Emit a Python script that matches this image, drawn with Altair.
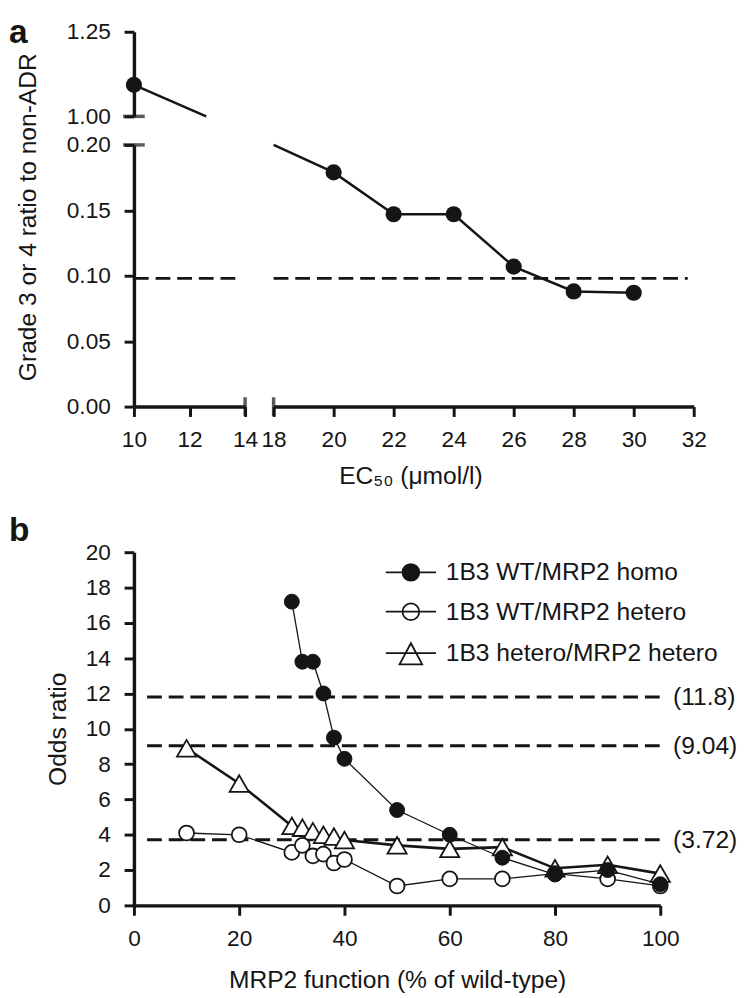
import altair as alt
import pandas as pd

FONT = "Liberation Sans, Arial, Helvetica, sans-serif"
INK = "#151515"

# ---------------- Panel a data ----------------
ec50_upper = [10]
ratio_upper = [1.093]
ec50_lower = [20, 22, 24, 26, 28, 30]
ratio_lower = [0.179, 0.147, 0.147, 0.107, 0.088, 0.087]
# line continuing to the axis breaks
upper_line_x = [10, 12.6]
upper_line_y = [1.093, 1.0]
lower_line_x = [18, 20, 22, 24, 26, 28, 30]
lower_line_y = [0.200, 0.179, 0.147, 0.147, 0.107, 0.088, 0.087]
threshold_a = 0.098
thr_left_x = [10, 13.8]
thr_right_x = [18, 31.8]
x_ticks_left = [10, 12, 14]
x_ticks_right = [18, 20, 22, 24, 26, 28, 30, 32]
y_ticks_upper = [1.0, 1.25]
y_ticks_lower = [0.0, 0.05, 0.10, 0.15, 0.20]

# ---------------- Panel b data ----------------
series_names = ["1B3 WT/MRP2 homo", "1B3 WT/MRP2 hetero", "1B3 hetero/MRP2 hetero"]
homo_x = [30, 32, 34, 36, 38, 40, 50, 60, 70, 80, 90, 100]
homo_or = [17.2, 13.8, 13.8, 12.0, 9.5, 8.3, 5.4, 4.0, 2.7, 1.75, 2.0, 1.2]
het_x = [10, 20, 30, 32, 34, 36, 38, 40, 50, 60, 70, 80, 90, 100]
het_or = [4.1, 4.0, 3.0, 3.4, 2.8, 2.9, 2.4, 2.6, 1.1, 1.5, 1.5, 1.8, 1.5, 1.1]
hh_x = [10, 20, 30, 32, 34, 36, 38, 40, 50, 60, 70, 80, 90, 100]
hh_or = [8.9, 6.9, 4.5, 4.4, 4.2, 4.0, 3.9, 3.7, 3.4, 3.2, 3.3, 2.1, 2.3, 1.8]
thresholds_b = [11.8, 9.04, 3.72]
threshold_labels_b = ["(11.8)", "(9.04)", "(3.72)"]
thr_b_start = 2.5
thr_b_end = 100
x_ticks_b = [0, 20, 40, 60, 80, 100]
y_ticks_b = list(range(0, 21, 2))

# ================= Panel a =================
sx_left = alt.Scale(domain=[10, 14], range=[0, 113], nice=False, zero=False)
sx_right = alt.Scale(domain=[18, 32], range=[142, 569], nice=False, zero=False)
sy_up = alt.Scale(domain=[1.0, 1.25], range=[86, 0], nice=False, zero=False)
sy_lo = alt.Scale(domain=[0, 0.2], range=[381, 115], nice=False, zero=False)

# upper-left block
xu = alt.X("ec50:Q", scale=sx_left, axis=None)
yu = alt.Y("ratio:Q", scale=sy_up,
           axis=alt.Axis(values=y_ticks_upper, format=".2f", title=None, orient="left"))
up_line = alt.Chart(pd.DataFrame({"ec50": upper_line_x, "ratio": upper_line_y})).mark_line(
    color=INK, strokeWidth=2.5).encode(x=xu, y=yu)
up_pts = alt.Chart(pd.DataFrame({"ec50": ec50_upper, "ratio": ratio_upper})).mark_point(
    shape="circle", filled=True, color=INK, size=270, opacity=1).encode(x=xu, y=yu)
up_break = alt.Chart(pd.DataFrame({"ec50": [x_ticks_left[0]], "ratio": [y_ticks_upper[0]]})).mark_tick(
    orient="horizontal", color=INK, size=22, thickness=3.5).encode(x=xu, y=yu)
UL = alt.layer(up_line, up_pts, up_break)

# lower-left block
xl = alt.X("ec50:Q", scale=sx_left,
           axis=alt.Axis(values=x_ticks_left, title=None, orient="bottom"))
yl = alt.Y("ratio:Q", scale=sy_lo,
           axis=alt.Axis(values=y_ticks_lower, format=".2f", title="Grade 3 or 4 ratio to non-ADR",
                         orient="left", titleY=188, titlePadding=26))
ll_thr = alt.Chart(pd.DataFrame({"ec50": [thr_left_x[0]], "ec50_end": [thr_left_x[1]],
                                 "ratio": [threshold_a]})).mark_rule(
    color=INK, strokeWidth=3, strokeDash=[15, 7]).encode(x=xl, x2="ec50_end:Q", y=yl)
ll_break_h = alt.Chart(pd.DataFrame({"ec50": [x_ticks_left[0]], "ratio": [y_ticks_lower[-1]]})).mark_tick(
    orient="horizontal", color=INK, size=22, thickness=3.5).encode(x=xl, y=yl)
ll_break_v = alt.Chart(pd.DataFrame({"ec50": [x_ticks_left[-1]], "ratio": [y_ticks_lower[0]]})).mark_tick(
    orient="vertical", color=INK, size=19, thickness=3.5).encode(x=xl, y=yl)
LL = alt.layer(ll_thr, ll_break_h, ll_break_v)

# lower-right block
xr = alt.X("ec50:Q", scale=sx_right,
           axis=alt.Axis(values=x_ticks_right, title="EC\u2085\u2080 (\u03bcmol/l)", orient="bottom",
                         titleX=281))
yr = alt.Y("ratio:Q", scale=sy_lo, axis=None)
lr_thr = alt.Chart(pd.DataFrame({"ec50": [thr_right_x[0]], "ec50_end": [thr_right_x[1]],
                                 "ratio": [threshold_a]})).mark_rule(
    color=INK, strokeWidth=3, strokeDash=[15, 7]).encode(x=xr, x2="ec50_end:Q", y=yr)
lr_line = alt.Chart(pd.DataFrame({"ec50": lower_line_x, "ratio": lower_line_y})).mark_line(
    color=INK, strokeWidth=2.5).encode(x=xr, y=yr)
lr_pts = alt.Chart(pd.DataFrame({"ec50": ec50_lower, "ratio": ratio_lower})).mark_point(
    shape="circle", filled=True, color=INK, size=270, opacity=1).encode(x=xr, y=yr)
lr_break = alt.Chart(pd.DataFrame({"ec50": [x_ticks_right[0]], "ratio": [y_ticks_lower[0]]})).mark_tick(
    orient="vertical", color=INK, size=19, thickness=3.5).encode(x=xr, y=yr)
LR = alt.layer(lr_thr, lr_line, lr_pts, lr_break)

panel_a = alt.layer(UL, LL, LR).resolve_scale(x="independent", y="independent").properties(
    width=569, height=381,
    title=alt.TitleParams("a", anchor="start", frame="group", dx=-127, offset=-29,
                          fontSize=34, fontWeight="bold", font=FONT, color=INK))

# ================= Panel b =================
rows = []
for name, xs, ys in [(series_names[0], homo_x, homo_or),
                     (series_names[1], het_x, het_or),
                     (series_names[2], hh_x, hh_or)]:
    for xv, yv in zip(xs, ys):
        rows.append({"mrp2": xv, "odds": yv, "series": name})
df_b = pd.DataFrame(rows)

xb = alt.X("mrp2:Q", scale=alt.Scale(domain=[0, 100], nice=False),
           axis=alt.Axis(values=x_ticks_b, title="MRP2 function (% of wild-type)", titlePadding=17))
yb = alt.Y("odds:Q", scale=alt.Scale(domain=[0, 20], nice=False),
           axis=alt.Axis(values=y_ticks_b, title="Odds ratio", titlePadding=15))

df_thr = pd.DataFrame({"mrp2": [thr_b_start] * 3, "mrp2_end": [thr_b_end] * 3,
                       "odds": thresholds_b, "label": threshold_labels_b})
thr_rules = alt.Chart(df_thr).mark_rule(color=INK, strokeWidth=3, strokeDash=[15, 7]).encode(
    x=xb, x2="mrp2_end:Q", y=yb)
thr_text = alt.Chart(df_thr).mark_text(align="left", baseline="middle", dx=13, fontSize=25,
                                        font=FONT, color=INK).encode(
    x=alt.X("mrp2_end:Q", scale=alt.Scale(domain=[0, 100], nice=False)), y=yb, text="label:N")


def sub(name):
    return df_b[df_b["series"] == name]


line_hh = alt.Chart(sub(series_names[2])).mark_line(color=INK, strokeWidth=2.6).encode(x=xb, y=yb)
line_het = alt.Chart(sub(series_names[1])).mark_line(color=INK, strokeWidth=1.3).encode(x=xb, y=yb)
line_homo = alt.Chart(sub(series_names[0])).mark_line(color=INK, strokeWidth=1.3).encode(x=xb, y=yb)
pts_hh = alt.Chart(sub(series_names[2])).mark_point(
    shape="triangle-up", filled=True, fill="white", stroke=INK, strokeWidth=1.8, size=380,
    opacity=1).encode(x=xb, y=yb)
pts_het = alt.Chart(sub(series_names[1])).mark_point(
    shape="circle", filled=True, fill="white", stroke=INK, strokeWidth=1.8, size=230,
    opacity=1).encode(x=xb, y=yb)
pts_homo = alt.Chart(sub(series_names[0])).mark_point(
    shape="circle", filled=True, fill=INK, stroke=INK, strokeWidth=1, size=230,
    opacity=1).encode(x=xb, y=yb)

# legend symbols: line with marker (custom paths in unit coords)
r = 0.85
k = 0.5523 * r
circ = (f"M{r},0C{r},{k} {k},{r} 0,{r}C{-k},{r} {-r},{k} {-r},0"
        f"C{-r},{-k} {-k},{-r} 0,{-r}C{k},{-r} {r},{-k} {r},0Z")
seg = "M-2.55,0L2.55,0"
tri = "M0,-1.0L-1.15,1.15L1.15,1.15Z"
legend_paths = [seg + circ, seg + circ, seg + tri]

leg = alt.Legend(title=None, orient="none", legendX=269, legendY=537, symbolSize=400,
                 symbolStrokeWidth=1.8, labelFontSize=25, labelFont=FONT, labelColor=INK,
                 labelOffset=23, rowPadding=14, padding=0, labelLimit=500)
legend_layer = alt.Chart(df_b).transform_filter("false").mark_point(filled=True, opacity=1).encode(
    x=xb, y=yb,
    shape=alt.Shape("series:N", scale=alt.Scale(domain=series_names, range=legend_paths), legend=leg),
    fill=alt.Fill("series:N", scale=alt.Scale(domain=series_names, range=[INK, "white", "white"]),
                  legend=leg),
    stroke=alt.Stroke("series:N", scale=alt.Scale(domain=series_names, range=[INK, INK, INK]),
                      legend=leg),
)

panel_b = alt.layer(thr_rules, thr_text, line_hh, line_het, line_homo,
                    pts_hh, pts_het, pts_homo, legend_layer).properties(
    width=535, height=359,
    title=alt.TitleParams("b", anchor="start", frame="group", dx=-127, offset=-7,
                          fontSize=34, fontWeight="bold", font=FONT, color=INK))

chart = alt.vconcat(panel_a, panel_b, spacing=27).properties(
    padding={"left": 1, "top": 0, "right": 0, "bottom": 0}
).configure_view(
    stroke=None
).configure_axis(
    grid=False, domainColor=INK, domainWidth=3.5, tickColor=INK, tickWidth=3, tickSize=10,
    labelFont=FONT, labelFontSize=23, labelColor=INK, labelFlush=False,
    titleFont=FONT, titleFontSize=25, titleFontWeight="normal", titleColor=INK,
).configure_axisX(
    labelPadding=13, titlePadding=12
).configure_axisY(
    labelPadding=14, titlePadding=16
)

chart.save("out.html", embed_options={"renderer": "svg", "actions": False})
